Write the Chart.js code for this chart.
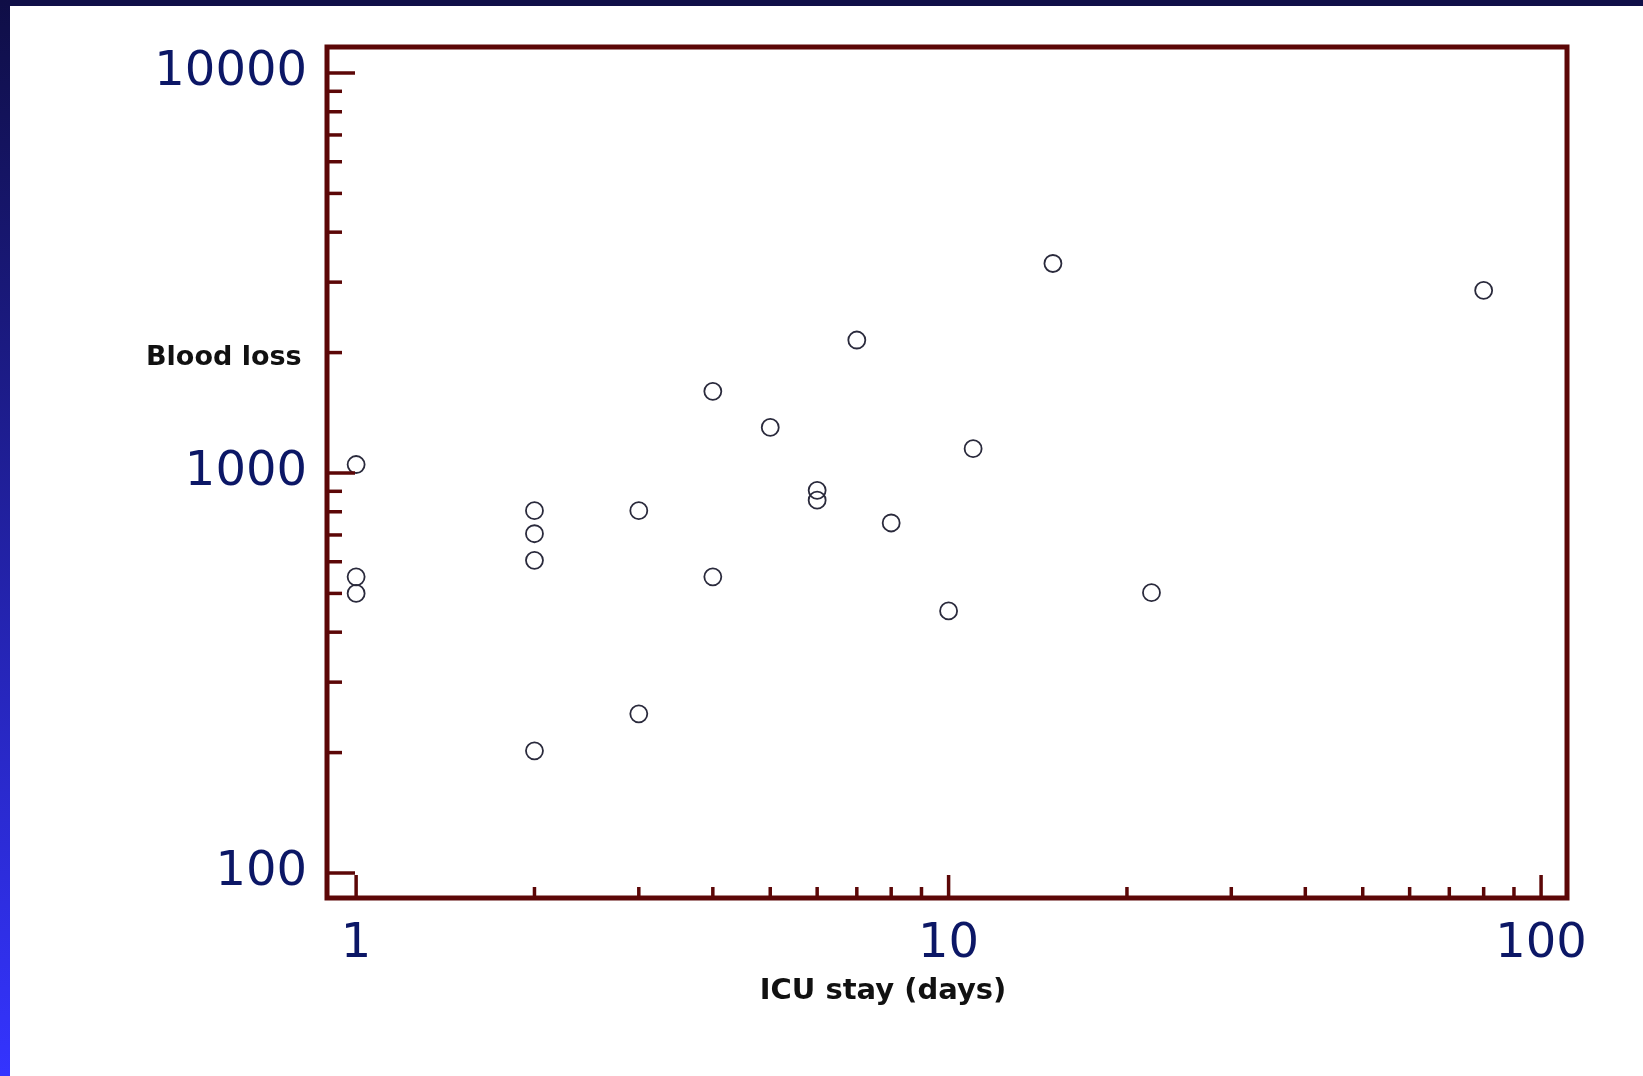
<!DOCTYPE html>
<html>
<head>
<meta charset="utf-8">
<script src="https://cdn.jsdelivr.net/npm/chart.js@4.4.0/dist/chart.umd.min.js"></script>
<style>
  html, body { margin: 0; padding: 0; background: #fff; overflow: hidden; }
  #wrap { position: relative; width: 1643px; height: 1076px; }
  #barTop { position: absolute; left: 0; top: 0; width: 1643px; height: 6px; background: #100f48; }
  #barLeft { position: absolute; left: 0; top: 0; width: 10px; height: 1076px; background: linear-gradient(#0f0e46, #3434ff); }
  canvas { position: absolute; left: 0; top: 0; }
</style>
</head>
<body>
<div id="wrap">
  <div id="barTop"></div>
  <div id="barLeft"></div>
  <canvas id="grafico" width="1643" height="1076"></canvas>
</div>
<script>
// ICU stay (days) vs blood loss, one point per patient
const icuStay   = [1, 1, 1, 2, 2, 2, 2, 3, 3, 4, 4, 5, 6, 6, 7, 8, 10, 11, 15, 22, 80];
const bloodLoss = [1050, 550, 500, 805, 705, 605, 202, 805, 250, 1600, 550, 1300, 905, 855, 2150, 750, 452, 1150, 3340, 502, 2860];

// tick marks and labelled ticks
const xTicks = [1, 2, 3, 4, 5, 6, 7, 8, 9, 10, 20, 30, 40, 50, 60, 70, 80, 90, 100];
const xLabels = [1, 10, 100];
const yTicks = [100, 200, 300, 400, 500, 600, 700, 800, 900, 1000, 2000, 3000, 4000, 5000, 6000, 7000, 8000, 9000, 10000];
const yLabels = [100, 1000, 10000];

const corMoldura = '#5c0707';
const corNumeros = '#0c1766';

// frame, inner tick marks and the two axis titles
const moldura = {
  id: 'moldura',
  afterDraw(chart) {
    const { ctx, chartArea: a, scales: { x, y } } = chart;
    ctx.save();
    ctx.strokeStyle = corMoldura;
    ctx.lineWidth = 3.5;
    x.ticks.forEach(t => {
      const px = x.getPixelForValue(t.value);
      const len = xLabels.includes(t.value) ? 23 : 11;
      ctx.beginPath();
      ctx.moveTo(px, a.bottom);
      ctx.lineTo(px, a.bottom - len);
      ctx.stroke();
    });
    y.ticks.forEach(t => {
      const py = y.getPixelForValue(t.value);
      const len = yLabels.includes(t.value) ? 28 : 15;
      ctx.beginPath();
      ctx.moveTo(a.left, py);
      ctx.lineTo(a.left + len, py);
      ctx.stroke();
    });
    ctx.lineWidth = 5;
    ctx.strokeRect(a.left, a.top, a.right - a.left, a.bottom - a.top);

    ctx.fillStyle = '#111';
    ctx.textBaseline = 'middle';
    ctx.font = 'bold 27px "DejaVu Sans"';
    ctx.textAlign = 'left';
    ctx.fillText('Blood loss', a.left - 181, a.top + 311);
    ctx.font = 'bold 29px "DejaVu Sans"';
    ctx.textAlign = 'center';
    ctx.fillText('ICU stay (days)', a.left + 556, a.bottom + 93);
    ctx.restore();
  }
};

window.addEventListener('DOMContentLoaded', () => {
  const ctx = document.getElementById('grafico').getContext('2d');
  new Chart(ctx, {
    type: 'scatter',
    data: {
      datasets: [{
        label: 'Blood loss',
        data: icuStay.map((d, i) => ({ x: d, y: bloodLoss[i] })),
        pointRadius: 8.5,
        pointBorderWidth: 1.8,
        borderColor: '#2a2a3c',
        backgroundColor: 'rgba(0,0,0,0)'
      }]
    },
    options: {
      responsive: false,
      animation: false,
      layout: { padding: { top: 47, right: 76, left: 0, bottom: 0 } },
      plugins: { legend: { display: false }, tooltip: { enabled: false } },
      scales: {
        x: {
          type: 'logarithmic',
          min: 0.893,
          max: 110.6,
          afterBuildTicks: s => { s.ticks = xTicks.map(v => ({ value: v })); },
          afterFit: s => { s.height = 178; },
          grid: { display: false },
          border: { display: false },
          ticks: {
            autoSkip: false,
            maxRotation: 0,
            padding: 10,
            color: corNumeros,
            font: { family: 'DejaVu Sans', size: 48 },
            callback: v => xLabels.includes(v) ? String(v) : ''
          }
        },
        y: {
          type: 'logarithmic',
          min: 86.6,
          max: 11614,
          afterBuildTicks: s => { s.ticks = yTicks.map(v => ({ value: v })); },
          afterFit: s => { s.width = 327; },
          grid: { display: false },
          border: { display: false },
          ticks: {
            autoSkip: false,
            padding: 12,
            color: corNumeros,
            font: { family: 'DejaVu Sans', size: 48 },
            callback: v => yLabels.includes(v) ? String(v) : ''
          }
        }
      }
    },
    plugins: [moldura]
  });
});
</script>
</body>
</html>
